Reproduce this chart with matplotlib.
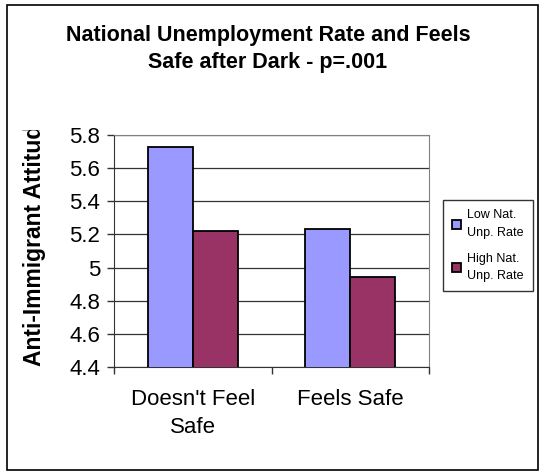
import matplotlib
matplotlib.use('Agg')
import matplotlib.pyplot as plt
from matplotlib.patches import Rectangle
from matplotlib.transforms import Bbox, TransformedBbox

plt.rcParams['font.family'] = ['Liberation Sans', 'DejaVu Sans']

categories = ["Doesn't Feel\nSafe", "Feels Safe"]
series_names = ['Low Nat.\nUnp. Rate', 'High Nat.\nUnp. Rate']
low_rate = [5.73, 5.23]
high_rate = [5.22, 4.945]
yticks = [4.4, 4.6, 4.8, 5.0, 5.2, 5.4, 5.6, 5.8]
ytick_labels = ['4.4', '4.6', '4.8', '5', '5.2', '5.4', '5.6', '5.8']

W, H = 544, 472
fig = plt.figure(figsize=(W / 100, H / 100), dpi=100)

# outer chart frame
fig.patches.append(Rectangle((7 / W, 1 - 470 / H), 531 / W, 465 / H,
                             transform=fig.transFigure, fill=False,
                             edgecolor='black', linewidth=1.2))

ax = fig.add_axes([114 / W, 1 - 367 / H, 315 / W, 232 / H])

x = list(range(len(categories)))
bw = 0.2857
ax.bar([i - bw / 2 for i in x], low_rate, bw, color='#9999FF',
       edgecolor='black', linewidth=1.3, label=series_names[0], zorder=3)
ax.bar([i + bw / 2 for i in x], high_rate, bw, color='#993366',
       edgecolor='black', linewidth=1.3, label=series_names[1], zorder=3)

ax.set_xlim(-0.5, 1.5)
ax.set_ylim(4.4, 5.8)
ax.set_yticks(yticks)
ax.set_yticklabels(ytick_labels, fontsize=16)
ax.yaxis.grid(True, color='#333333', linewidth=0.9, zorder=0)

ax.set_xticks([-0.5, 0.5, 1.5])
ax.set_xticklabels([])
ax.set_xticks(x, minor=True)
ax.set_xticklabels(categories, minor=True, fontsize=16, linespacing=1.4)
ax.tick_params(axis='x', which='minor', length=0, pad=16)
ax.tick_params(axis='both', which='major', length=5, width=1, color='#333333', pad=5)

for side in ['top', 'right']:
    ax.spines[side].set_color('#808080')
for side in ['left', 'bottom']:
    ax.spines[side].set_color('#333333')

# y-axis title, cut off at the top of the chart box
ylab = fig.text(34 / W, 1 - 366 / H, 'Anti-Immigrant Attitude', rotation=90,
                rotation_mode='anchor', ha='left', va='center',
                fontsize=16.5, fontweight='bold')
ylab.set_clip_box(TransformedBbox(Bbox([[0, 0], [1, 1 - 130 / H]]),
                                  fig.transFigure))
ylab.set_clip_on(True)

fig.text(268 / W, 1 - 49 / H,
         'National Unemployment Rate and Feels\nSafe after Dark - p=.001',
         ha='center', va='center', fontsize=15.5, fontweight='bold',
         linespacing=1.35)

leg = fig.legend(loc='upper left', bbox_to_anchor=(443 / W, 1 - 200 / H),
                 fontsize=9, frameon=True, fancybox=False, edgecolor='black',
                 handlelength=0.7, handleheight=0.7, handletextpad=0.5,
                 labelspacing=1.1, borderpad=0.75, borderaxespad=0)
leg.get_frame().set_linewidth(1)
for t in leg.get_texts():
    t.set_linespacing(1.6)

fig.savefig('out.png', dpi=100)
